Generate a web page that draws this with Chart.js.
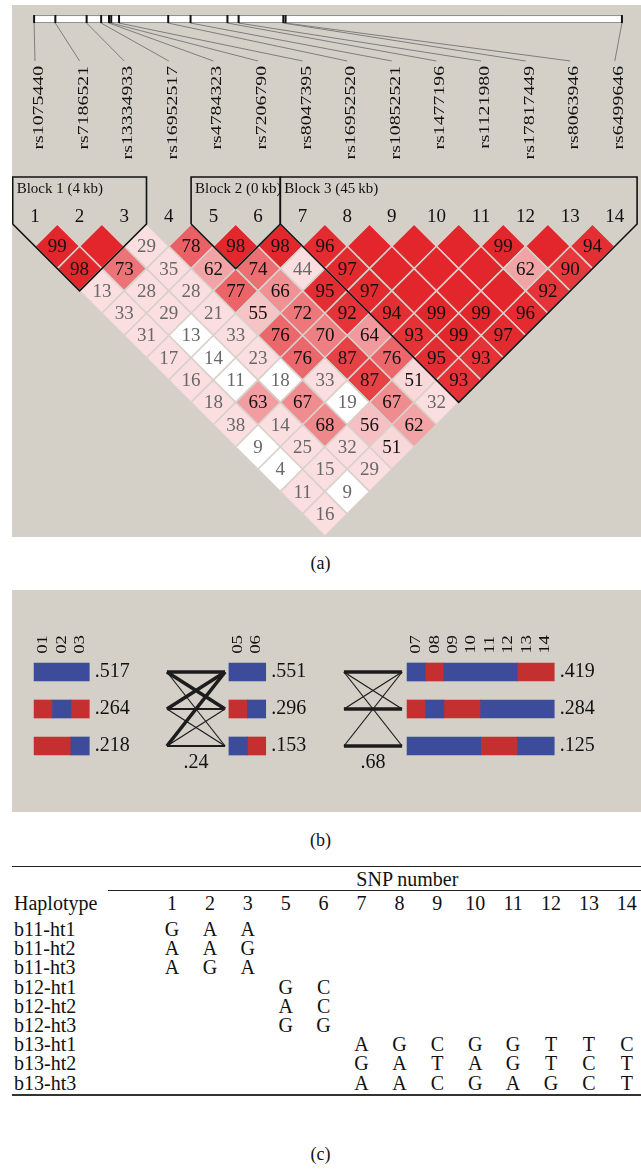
<!DOCTYPE html>
<html>
<head>
<meta charset="utf-8">
<title>LD plot and haplotype blocks</title>
<script src="https://cdn.jsdelivr.net/npm/chart.js@4.4.1/dist/chart.umd.min.js"></script>
<style>
  html, body { margin: 0; padding: 0; }
  body { width: 641px; height: 1170px; overflow: hidden; position: relative; background: #fff;
         font-family: 'Liberation Serif', 'Times New Roman', serif; color: #111; }
  .panel { position: absolute; left: 12px; width: 629px; background: #d4d0c8; }
  .panel canvas { display: block; }
  #panelA { top: 5px; height: 532px; }
  #panelB { top: 590px; height: 222px; }
  .caption { position: absolute; left: 0; width: 641px; text-align: center; font-size: 18px; line-height: 20px; }
  .rule { position: absolute; height: 1px; background: #222; }
  .cell { position: absolute; font-size: 20px; line-height: 20px; white-space: nowrap; transform: translate(-50%, -50%); }
  .cell.left { transform: translate(0, -50%); }
</style>
</head>
<body>
<div class="panel" id="panelA"><canvas id="ldChart" width="629" height="532"></canvas></div>
<div class="caption" style="top:553px">(a)</div>
<div class="panel" id="panelB"><canvas id="hapChart" width="629" height="222"></canvas></div>
<div class="caption" style="top:830px">(b)</div>
<div id="table"></div>
<div class="caption" style="top:1144px">(c)</div>
<script>
// ---- data ----
const snpNames = ['rs1075440', 'rs7186521', 'rs13334933', 'rs16952517', 'rs4784323', 'rs7206790', 'rs8047395',
  'rs16952520', 'rs10852521', 'rs1477196', 'rs1121980', 'rs17817449', 'rs8063946', 'rs6499646'];
const snpPosKb = [0, 1.9, 4.7, 6.0, 6.7, 6.9, 7.6, 12.0, 14.0, 17.3, 18.3, 22.3, 22.5, 52.6];

// D' x100, one row per marker distance: ldByDistance[d-1][i] = D'(snp i+1, snp i+1+d)
const ldByDistance = [
  [99, 100, 29, 78, 98, 98, 96, 100, 100, 100, 99, 100, 94],
  [98, 73, 35, 62, 74, 44, 97, 100, 100, 100, 62, 90],
  [13, 28, 28, 77, 66, 95, 97, 100, 100, 100, 92],
  [33, 29, 21, 55, 72, 92, 94, 99, 99, 96],
  [31, 13, 33, 76, 70, 64, 93, 99, 97],
  [17, 14, 23, 76, 87, 76, 95, 93],
  [16, 11, 18, 33, 87, 51, 93],
  [18, 63, 67, 19, 67, 32],
  [38, 14, 68, 56, 62],
  [9, 25, 32, 51],
  [4, 15, 29],
  [11, 9],
  [16]
];
// pairs shown white (LOD < 2)
const lowLodPairs = [[2, 7], [2, 8], [2, 9], [3, 10], [4, 12], [1, 11], [1, 12], [2, 14]];
const blockNames = ['Block 1 (4\u2009kb)', 'Block 2 (0\u2009kb)', 'Block 3 (45\u2009kb)'];
const blockSnps = [[1, 2, 3], [5, 6], [7, 8, 9, 10, 11, 12, 13, 14]];

const hapAlleles = [
  ['GAA', 'AAG', 'AGA'],
  ['GC', 'AC', 'GG'],
  ['AGCGGTTC', 'GATAGTCT', 'AACGAGCT']
];
const hapFreqs = [[0.517, 0.264, 0.218], [0.551, 0.296, 0.153], [0.419, 0.284, 0.125]];
// allele drawn blue for each SNP (the other one is red)
const blueAllele = ['G', 'A', 'A', null, 'G', 'C', 'A', 'A', 'C', 'G', 'G', 'T', 'C', 'T'];
// links between haplotypes of neighbouring blocks: [left hap, right hap, weight]
const links12 = [[1, 1, 3], [1, 2, 3], [2, 1, 3], [3, 1, 3], [2, 2, 2], [3, 3, 2], [1, 3, 1], [2, 3, 1], [3, 2, 1]];
const links23 = [[1, 1, 3], [2, 2, 3], [3, 3, 3], [1, 2, 1], [2, 1, 1], [1, 3, 1], [3, 1, 1]];
const multiDPrime = [0.24, 0.68];

const tableSnps = [1, 2, 3, 5, 6, 7, 8, 9, 10, 11, 12, 13, 14];

Chart.defaults.font.family = "'Liberation Serif', serif";

// ---------- (a) LD plot ----------
const A_UNIT = 44.6;              // px between neighbouring SNPs
const A_SNP1_X = 23, A_BASE_Y = 219;
const BOX_TOP = -2.11, LABEL_Y = -1.57, NUM_Y = -0.31;
const MAP_TOP = -9.37, MAP_BOTTOM = -9.01, LINK_END = -7.31, NAME_END = -7.09;
const MAP_X = [0.98, 14.16];

function isLow(a, b) { return lowLodPairs.some(p => p[0] === a && p[1] === b); }

function cellColor(v, low) {
  if (low) return '#ffffff';
  if (v < 50) return 'rgb(250,222,224)';
  const g = Math.max(0, Math.min(224, 446 * (1 - v / 100)));
  const t = Math.pow(g / 224, 1.4);
  return 'rgb(' + Math.round(226 + 24 * t) + ',' + Math.round(38 + 184 * t) + ',' + Math.round(43 + 181 * t) + ')';
}

const ldCells = [];
ldByDistance.forEach((row, k) => row.forEach((v, i) => {
  const a = i + 1, b = i + 2 + k;
  ldCells.push({ x: (a + b) / 2, y: b - a, v: v, low: isLow(a, b) });
}));

const outlines = blockSnps.map(s => {
  const a = s[0], b = s[s.length - 1];
  return {
    type: 'line', order: 1,
    data: [{ x: a - 0.5, y: 0 }, { x: a - 0.5, y: BOX_TOP }, { x: b + 0.5, y: BOX_TOP }, { x: b + 0.5, y: 0 },
      { x: (a + b) / 2, y: b - a + 1 }, { x: a - 0.5, y: 0 }],
    borderColor: '#111', borderWidth: 1.6, pointRadius: 0, fill: false, tension: 0, clip: false
  };
});

const ldText = {
  id: 'ldText',
  afterDatasetsDraw(chart) {
    const { ctx, scales: { x, y } } = chart;
    const px = v => x.getPixelForValue(v), py = v => y.getPixelForValue(v);
    ctx.save();
    // physical map
    const span = snpPosKb[snpPosKb.length - 1];
    const kbX = kb => px(MAP_X[0] + kb / span * (MAP_X[1] - MAP_X[0]));
    const t = py(MAP_TOP), b = py(MAP_BOTTOM);
    ctx.fillStyle = '#fff';
    ctx.fillRect(kbX(0), t, kbX(span) - kbX(0), b - t);
    ctx.strokeStyle = '#8c8c8c';
    ctx.lineWidth = 1;
    ctx.beginPath();
    ctx.moveTo(kbX(0), t + 0.5); ctx.lineTo(kbX(span), t + 0.5);
    ctx.moveTo(kbX(0), b - 0.5); ctx.lineTo(kbX(span), b - 0.5);
    ctx.stroke();
    ctx.strokeStyle = '#7d7d7d';
    snpPosKb.forEach((kb, i) => {
      ctx.beginPath(); ctx.moveTo(kbX(kb), b); ctx.lineTo(px(i + 1), py(LINK_END)); ctx.stroke();
    });
    ctx.strokeStyle = '#111';
    ctx.lineWidth = 2;
    snpPosKb.forEach(kb => {
      ctx.beginPath(); ctx.moveTo(kbX(kb), t); ctx.lineTo(kbX(kb), b); ctx.stroke();
    });
    // marker names
    ctx.fillStyle = '#111';
    ctx.font = '15px "Liberation Serif"';
    ctx.textAlign = 'right';
    ctx.textBaseline = 'middle';
    snpNames.forEach((name, i) => {
      ctx.save();
      ctx.translate(px(i + 1) + 4, py(NAME_END));
      ctx.rotate(-Math.PI / 2);
      ctx.scale(1.32, 1);
      ctx.fillText(name, 0, 0);
      ctx.restore();
    });
    // column numbers and block names
    ctx.textAlign = 'center';
    ctx.font = '19px "Liberation Serif"';
    snpNames.forEach((n, i) => ctx.fillText(String(i + 1), px(i + 1), py(NUM_Y)));
    ctx.textAlign = 'left';
    ctx.font = '15px "Liberation Serif"';
    blockSnps.forEach((s, k) => ctx.fillText(blockNames[k], px(s[0] - 0.5) + 4, py(LABEL_Y)));
    // D' values
    ctx.textAlign = 'center';
    ctx.font = '19px "Liberation Serif"';
    chart.getDatasetMeta(0).data.forEach((pt, k) => {
      const c = ldCells[k];
      if (c.v >= 100) return;
      ctx.fillStyle = c.v >= 50 ? '#111' : '#686868';
      ctx.fillText(String(c.v), pt.x, pt.y + 1);
    });
    ctx.restore();
  }
};

new Chart(document.getElementById('ldChart'), {
  type: 'scatter',
  data: {
    datasets: [{
      order: 2,
      data: ldCells,
      pointStyle: 'rectRot',
      pointRadius: c => {
        const s = c.chart.scales.x;
        return (s.getPixelForValue(1) - s.getPixelForValue(0)) / 2;
      },
      backgroundColor: c => c.raw ? cellColor(c.raw.v, c.raw.low) : '#fff',
      borderColor: '#d8d0ca',
      borderWidth: 1.5
    }].concat(outlines)
  },
  options: {
    responsive: false,
    animation: false,
    events: [],
    layout: { padding: 0 },
    plugins: { legend: { display: false }, tooltip: { enabled: false } },
    scales: {
      x: { type: 'linear', display: false, min: 1 - A_SNP1_X / A_UNIT, max: 1 - A_SNP1_X / A_UNIT + 629 / A_UNIT },
      y: { type: 'linear', display: false, reverse: true,
           min: -A_BASE_Y / (A_UNIT / 2), max: -A_BASE_Y / (A_UNIT / 2) + 532 / (A_UNIT / 2) }
    }
  },
  plugins: [ldText]
});

// ---------- (b) haplotypes ----------
const B_SLOT = 18.4, B_ROW = 37;
const HB = { barStart: [1.2, 11.79, 21.47], linkFrom: [8.42, 18.04], linkTo: [11.58, 21.2], labelY: 0.51, dPrimeY: 3.45 };
const LINK_W = { 1: 1.2, 2: 2, 3: 3.6 };

const bluePts = [], redPts = [];
blockSnps.forEach((snps, bi) => hapAlleles[bi].forEach((hap, h) => {
  const code = c => hap[c] === blueAllele[snps[c] - 1] ? 1 : 2;
  let run = 0;
  for (let k = 1; k <= snps.length; k++) {
    if (k === snps.length || code(k) !== code(run)) {
      (code(run) === 1 ? bluePts : redPts).push({ x: [HB.barStart[bi] + run, HB.barStart[bi] + k], y: h + 1 });
      run = k;
    }
  }
}));

function linkSets(links, i) {
  return links.map(l => ({
    type: 'line', indexAxis: 'x',
    data: [{ x: HB.linkFrom[i], y: l[0] }, { x: HB.linkTo[i], y: l[1] }],
    borderColor: '#1c1c1c', borderWidth: LINK_W[l[2]], pointRadius: 0, fill: false, borderCapStyle: 'butt'
  }));
}

const barOpts = { type: 'bar', indexAxis: 'y', grouped: false, barThickness: 18, maxBarThickness: 18, borderWidth: 0 };

const hapText = {
  id: 'hapText',
  afterDatasetsDraw(chart) {
    const { ctx, scales: { x, y } } = chart;
    ctx.save();
    ctx.fillStyle = '#111';
    ctx.textBaseline = 'middle';
    blockSnps.forEach((snps, bi) => {
      ctx.font = '15px "Liberation Serif"';
      ctx.textAlign = 'left';
      snps.forEach((s, k) => {
        ctx.save();
        ctx.translate(x.getPixelForValue(HB.barStart[bi] + k + 0.5), y.getPixelForValue(HB.labelY));
        ctx.rotate(-Math.PI / 2);
        ctx.scale(1.25, 1);
        ctx.fillText(String(s).padStart(2, '0'), 0, 0);
        ctx.restore();
      });
      ctx.font = '20px "Liberation Serif"';
      hapFreqs[bi].forEach((f, h) =>
        ctx.fillText(f.toFixed(3).slice(1), x.getPixelForValue(HB.barStart[bi] + snps.length + 0.3), y.getPixelForValue(h + 1)));
    });
    ctx.textAlign = 'center';
    multiDPrime.forEach((d, i) =>
      ctx.fillText(d.toFixed(2).slice(1), x.getPixelForValue((HB.linkFrom[i] + HB.linkTo[i]) / 2), y.getPixelForValue(HB.dPrimeY)));
    ctx.restore();
  }
};

new Chart(document.getElementById('hapChart'), {
  type: 'bar',
  data: {
    datasets: [
      Object.assign({ data: bluePts, backgroundColor: '#3d4b9b' }, barOpts),
      Object.assign({ data: redPts, backgroundColor: '#c3302f' }, barOpts)
    ].concat(linkSets(links12, 0), linkSets(links23, 1))
  },
  options: {
    indexAxis: 'y',
    responsive: false,
    animation: false,
    events: [],
    layout: { padding: 0 },
    plugins: { legend: { display: false }, tooltip: { enabled: false } },
    scales: {
      x: { type: 'linear', display: false, offset: false, min: 0, max: 629 / B_SLOT },
      y: { type: 'linear', display: false, offset: false, reverse: true, min: 1 - 82 / B_ROW, max: 1 - 82 / B_ROW + 222 / B_ROW }
    }
  },
  plugins: [hapText]
});

// ---------- (c) haplotype table ----------
const TBL = { ruleTop: 866, snpNumY: 879, rule2Y: 890, rule2Left: 108, headY: 903, firstRow: 929, rowStep: 19.2,
              colX0: 172, colStep: 37.9, nameX: 14 };
const tableEl = document.getElementById('table');
function addDiv(cls, style, text) {
  const d = document.createElement('div');
  d.className = cls;
  Object.assign(d.style, style);
  if (text !== undefined) d.textContent = text;
  tableEl.appendChild(d);
}
const colX = snp => TBL.colX0 + tableSnps.indexOf(snp) * TBL.colStep;
addDiv('rule', { left: '12px', width: '629px', top: TBL.ruleTop + 'px' });
addDiv('cell', { left: (colX(1) + colX(14)) / 2 + 8 + 'px', top: TBL.snpNumY + 'px' }, 'SNP number');
addDiv('rule', { left: TBL.rule2Left + 'px', width: 641 - TBL.rule2Left + 'px', top: TBL.rule2Y + 'px' });
addDiv('cell left', { left: TBL.nameX + 'px', top: TBL.headY + 'px' }, 'Haplotype');
tableSnps.forEach(s => addDiv('cell', { left: colX(s) + 'px', top: TBL.headY + 'px' }, String(s)));
let r = 0;
hapAlleles.forEach((haps, bi) => haps.forEach((hap, h) => {
  const yy = TBL.firstRow + r * TBL.rowStep;
  addDiv('cell left', { left: TBL.nameX + 'px', top: yy + 'px' }, 'b1' + (bi + 1) + '-ht' + (h + 1));
  blockSnps[bi].forEach((s, k) => addDiv('cell', { left: colX(s) + 'px', top: yy + 'px' }, hap[k]));
  r++;
}));
addDiv('rule', { left: '12px', width: '629px', top: (TBL.firstRow + (r - 1) * TBL.rowStep + 11) + 'px', height: '2px', background: '#333' });
</script>
</body>
</html>
